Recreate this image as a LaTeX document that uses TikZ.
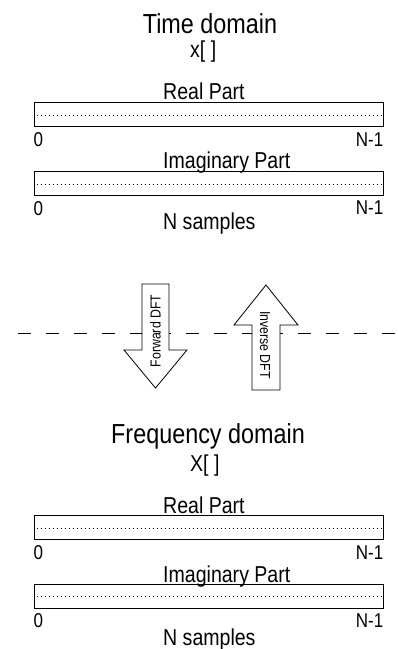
\documentclass[tikz,border=0pt]{standalone}
\usepackage{fontspec}
\setmainfont{Liberation Sans}[FakeStretch=0.85]
\usetikzlibrary{positioning, calc}

\begin{document}
\begin{tikzpicture}[
    x=1pt, y=-1pt,
    domaintitle/.style={font=\fontsize{27.5}{30}\selectfont, inner sep=0pt, anchor=base},
    partname/.style={font=\fontsize{23}{25}\selectfont, inner sep=0pt, anchor=base west},
    idxlabel/.style={font=\fontsize{20}{22}\selectfont, inner sep=0pt},
    buffer/.style={draw, line width=1pt, minimum width=349pt, minimum height=24pt, inner sep=0pt},
    sampleline/.style={line width=1pt, dash pattern=on 1pt off 3pt},
    bigarrow/.style={draw, fill=white, line width=0.8pt},
    arrowtext/.style={font=\fontsize{14.5}{16}\selectfont, inner sep=0pt},
    divider/.style={line width=0.9pt, dash pattern=on 12.5pt off 15.5pt}
]
    \useasboundingbox (0,0) rectangle (397,649);

    % Time domain
    \node[domaintitle] (time) at (210,33) {Time domain};
    \node[partname] (xarr) at (190,57) {x[ ]};
    \node[partname] (re1name) at (163,99) {Real Part};
    \node[buffer] (re1) at (208.5,114) {};
    \draw[sampleline] ([xshift=3pt,yshift=-1.5pt]re1.west) -- ([yshift=-1.5pt]re1.east);
    \node[idxlabel, below right=6pt and 0pt of re1.south west] (re1lo) {0};
    \node[idxlabel, below left=6pt and 0pt of re1.south east] (re1hi) {N-1};
    \node[partname] (im1name) at (163,168) {Imaginary Part};
    \node[buffer] (im1) at (208.5,183.5) {};
    \draw[sampleline] ([xshift=3pt,yshift=-1pt]im1.west) -- ([yshift=-1pt]im1.east);
    \node[idxlabel, below right=5pt and 0pt of im1.south west] (im1lo) {0};
    \node[idxlabel, below left=5pt and 0pt of im1.south east] (im1hi) {N-1};
    \node[partname] (n1) at (163,229) {N samples};

    % Divider and transform arrows
    \coordinate (divl) at (18,333);
    \coordinate (divr) at (397,333);
    \draw[divider] (divl) -- (divr);
    \draw[bigarrow] (142,284) -- (169,284) -- (169,350) -- (187,350) -- (155.5,388)
        -- (124,350) -- (142,350) -- cycle;
    \node[arrowtext, rotate=90] (fwd) at (155.5,331) {Forward DFT};
    \draw[bigarrow] (252,390) -- (280,390) -- (280,325) -- (298,325) -- (266,285)
        -- (234,325) -- (252,325) -- cycle;
    \node[arrowtext, rotate=-90] (inv) at (265,345) {Inverse DFT};

    % Frequency domain
    \node[domaintitle] (freq) at (208,443) {Frequency domain};
    \node[partname] (Xarr) at (190,471) {X[ ]};
    \node[partname] (re2name) at (163,513) {Real Part};
    \node[buffer] (re2) at (208.5,527) {};
    \draw[sampleline] ([xshift=3pt,yshift=-1pt]re2.west) -- ([yshift=-1pt]re2.east);
    \node[idxlabel, below right=6pt and 0pt of re2.south west] (re2lo) {0};
    \node[idxlabel, below left=6pt and 0pt of re2.south east] (re2hi) {N-1};
    \node[partname] (im2name) at (163,582) {Imaginary Part};
    \node[buffer] (im2) at (208.5,596) {};
    \draw[sampleline] ([xshift=3pt]im2.west) -- (im2.east);
    \node[idxlabel, below right=5pt and 0pt of im2.south west] (im2lo) {0};
    \node[idxlabel, below left=5pt and 0pt of im2.south east] (im2hi) {N-1};
    \node[partname] (n2) at (163,645) {N samples};
\end{tikzpicture}
\end{document}
